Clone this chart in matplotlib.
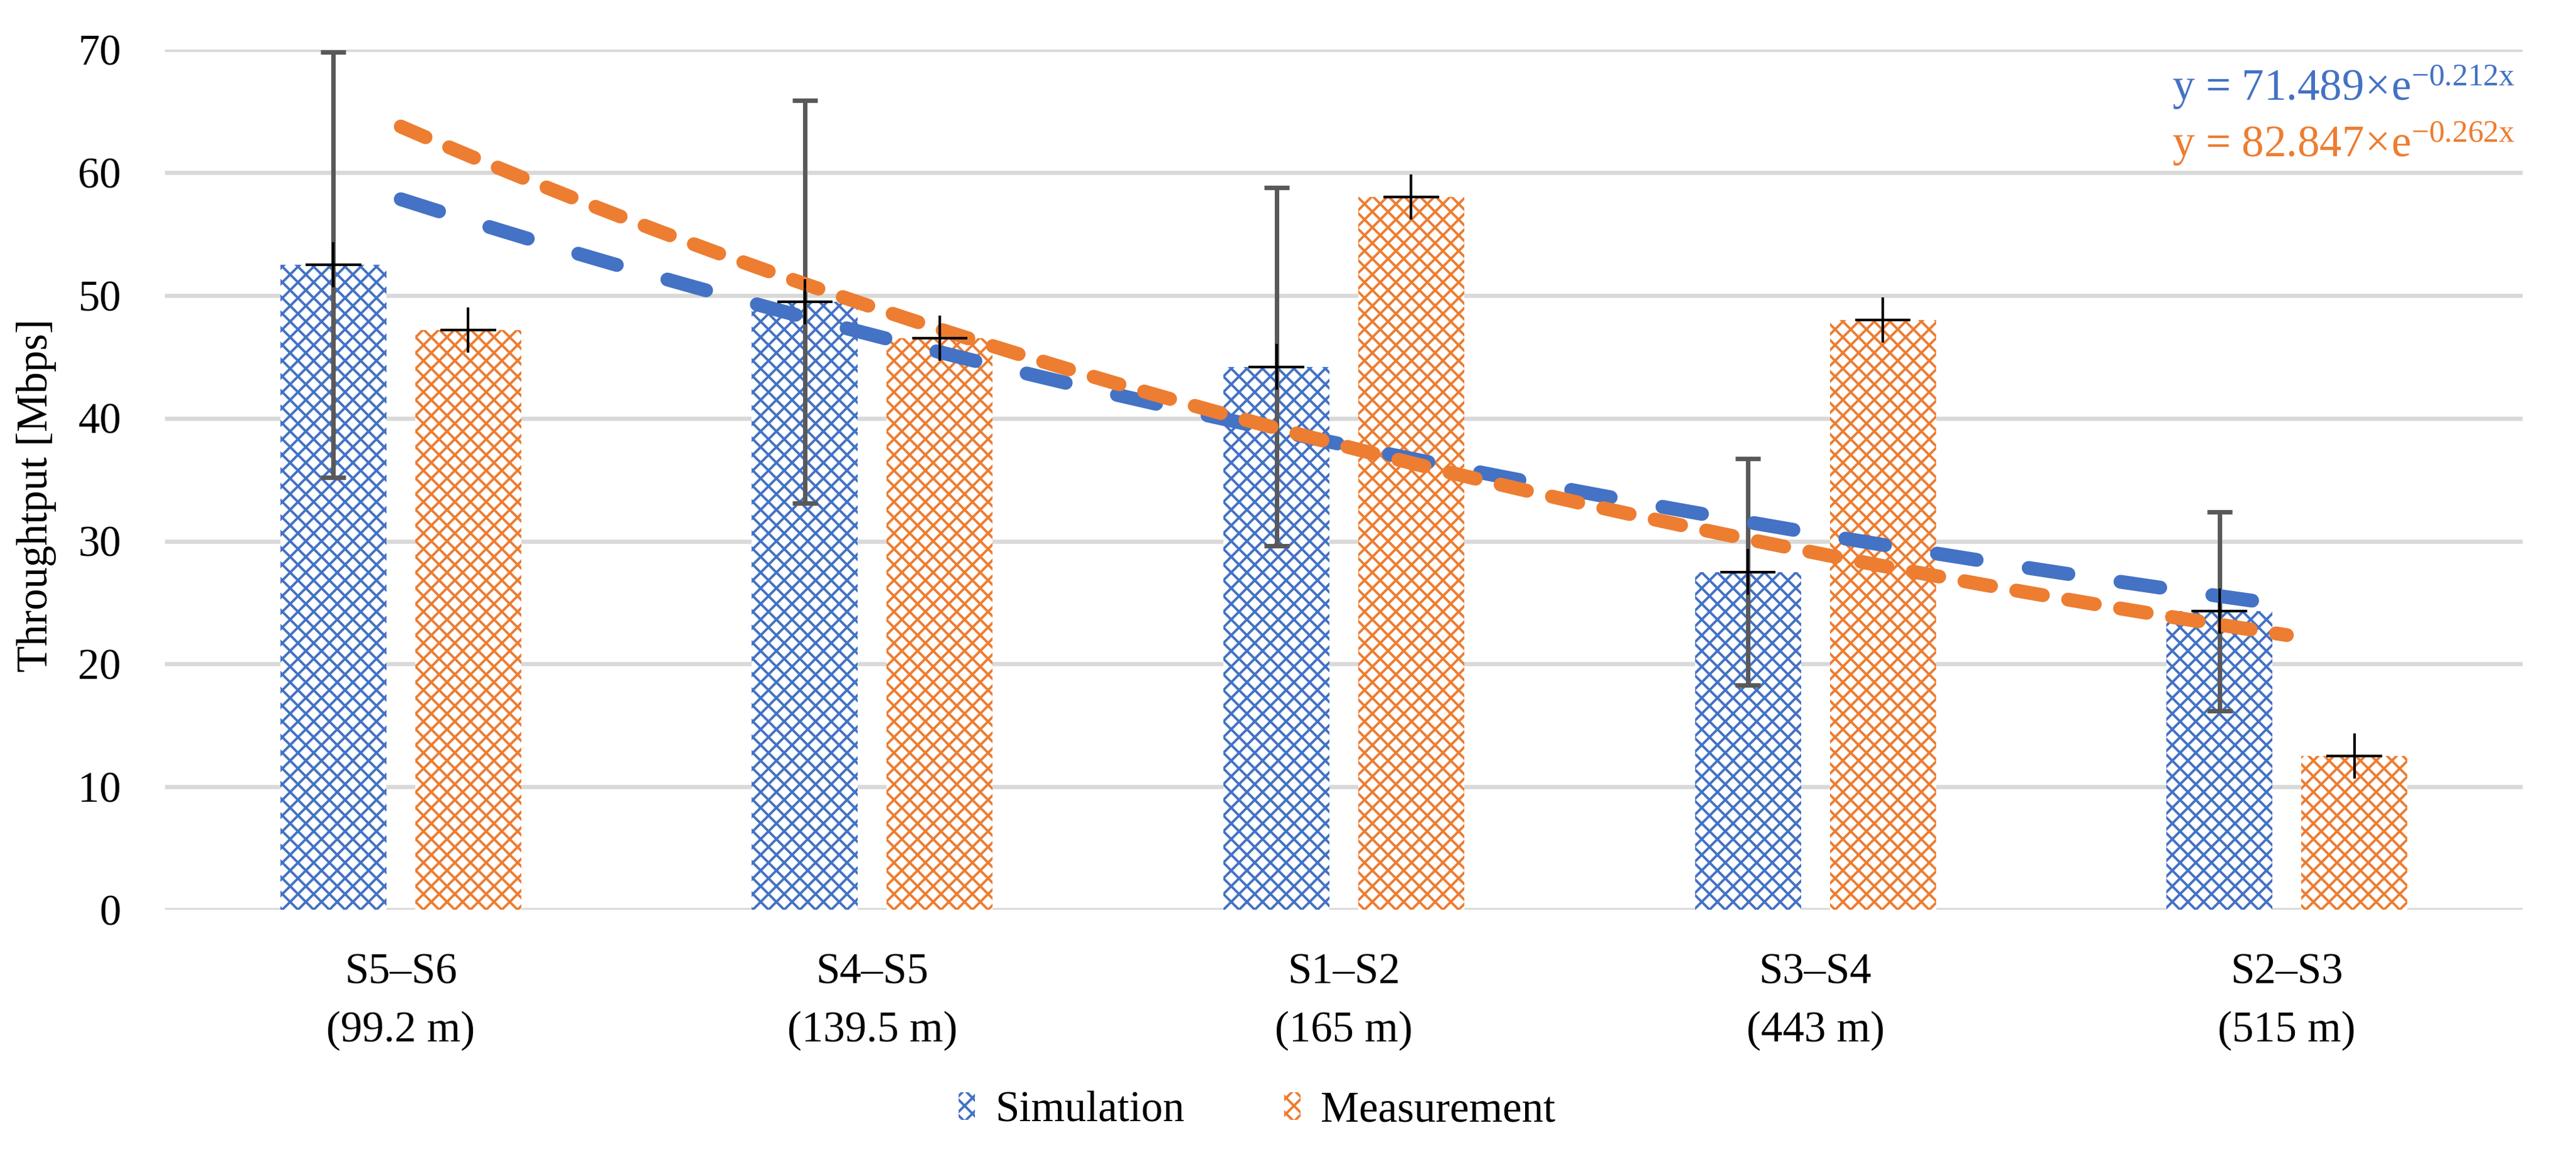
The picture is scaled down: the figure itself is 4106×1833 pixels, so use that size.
import numpy as np
import matplotlib
matplotlib.use('Agg')
import matplotlib.pyplot as plt
from matplotlib.patches import Patch

# ---- data ----
categories = ['S5–S6\n(99.2 m)', 'S4–S5\n(139.5 m)', 'S1–S2\n(165 m)',
              'S3–S4\n(443 m)', 'S2–S3\n(515 m)']
simulation = [52.5, 49.5, 44.2, 27.5, 24.3]
simulation_err = [17.3, 16.4, 14.6, 9.2, 8.1]
measurement = [47.2, 46.5, 58.0, 48.0, 12.5]
sim_trend = (71.489, -0.212)
meas_trend = (82.847, -0.262)
y_ticks = [0, 10, 20, 30, 40, 50, 60, 70]
series_names = ['Simulation', 'Measurement']

BLUE = '#4472C4'
ORANGE = '#ED7D31'
FS = 16.5

plt.rcParams['font.family'] = ['Liberation Serif', 'DejaVu Serif']
plt.rcParams['mathtext.fontset'] = 'custom'
plt.rcParams['mathtext.rm'] = 'Liberation Serif'
plt.rcParams['mathtext.it'] = 'Liberation Serif:italic'
plt.rcParams['hatch.linewidth'] = 0.95

W, H = 4106, 1833
fig = plt.figure(figsize=(W / 300, H / 300), dpi=300)
L, R, T, B = 263, 4021, 79.3, 1450
ax = fig.add_axes([L / W, 1 - B / H, (R - L) / W, (B - T) / H])

x = np.arange(len(categories))
off = 0.143
bw = 0.225
HATCH = 'xxxx'

ax.bar(x - off, simulation, bw, facecolor='white', edgecolor=BLUE, linewidth=0,
       hatch=HATCH, zorder=2)
ax.bar(x + off, measurement, bw, facecolor='white', edgecolor=ORANGE, linewidth=0,
       hatch=HATCH, zorder=2)

ax.errorbar(x - off, simulation, yerr=simulation_err, fmt='none', ecolor='#595959',
            elinewidth=1.7, capsize=4.7, capthick=1.7, zorder=3)

tx = np.linspace(1, len(categories), 400)
ax.plot(tx - 1, sim_trend[0] * np.exp(sim_trend[1] * tx), color=BLUE, lw=5.3,
        linestyle=(0, (2.9, 3.8)), dash_capstyle='round', zorder=4)
ax.plot(tx - 1, meas_trend[0] * np.exp(meas_trend[1] * tx), color=ORANGE, lw=5.3,
        linestyle=(0, (1.95, 1.85)), dash_capstyle='round', zorder=4)

# black cross markers on bar tops
ax.errorbar(np.r_[x - off, x + off], np.r_[simulation, measurement],
            xerr=0.059, yerr=1.84, fmt='none', ecolor='black', elinewidth=1.0,
            capsize=0, zorder=5)

ax.set_xlim(-0.5, len(categories) - 0.5)
ax.set_ylim(0, 70)
ax.set_yticks(y_ticks)
ax.set_xticks(x)
ax.set_xticklabels(categories, fontsize=FS, linespacing=1.6)
ax.tick_params(axis='y', length=0, pad=16.8, labelsize=FS)
ax.tick_params(axis='x', length=0, pad=16.5)
for s in ax.spines.values():
    s.set_visible(False)
ax.yaxis.grid(True, color='#D9D9D9', linewidth=1.6)
ax.set_axisbelow(True)

fig.text(58 / W, 1 - 790 / H, 'Throughtput [Mbps]', rotation=90, ha='center',
         va='center', fontsize=FS)

eq_sim = r'y = %.3f$\!\times\!$e$^{\mathrm{-%.3fx}}$' % (sim_trend[0], -sim_trend[1])
eq_meas = r'y = %.3f$\!\times\!$e$^{\mathrm{-%.3fx}}$' % (meas_trend[0], -meas_trend[1])
fig.text(4009 / W, 1 - 160 / H, eq_sim, ha='right', va='baseline', color=BLUE, fontsize=FS + 0.5)
fig.text(4009 / W, 1 - 250 / H, eq_meas, ha='right', va='baseline', color=ORANGE, fontsize=FS + 0.5)

handles = [Patch(facecolor='white', edgecolor=BLUE, linewidth=0, hatch=HATCH, label=series_names[0]),
           Patch(facecolor='white', edgecolor=ORANGE, linewidth=0, hatch=HATCH, label=series_names[1])]
fig.legend(handles=handles, loc='center', bbox_to_anchor=(0.488, 0.034), ncol=2,
           frameon=False, handlelength=0.38, handleheight=0.6, handletextpad=0.47,
           columnspacing=2.3, fontsize=FS, borderpad=0, borderaxespad=0)

fig.savefig('out.png', dpi=300)
